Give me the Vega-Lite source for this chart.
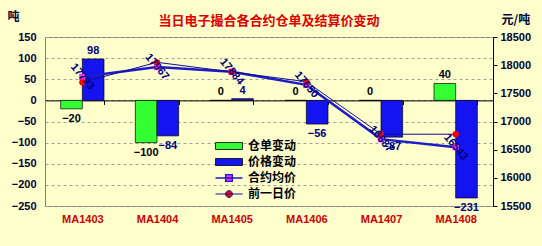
{
  "$schema": "https://vega.github.io/schema/vega-lite/v6.json",
  "autosize": {"type": "none"},
  "width": 448,
  "height": 169,
  "padding": {"left": 45, "top": 37, "right": 49, "bottom": 40},
  "background": "#FFFFCC",
  "title": {
    "text": "当日电子撮合各合约仓单及结算价变动",
    "font": "Noto Sans CJK SC",
    "fontSize": 13,
    "fontWeight": "bold",
    "color": "#DD0000",
    "anchor": "middle",
    "offset": -18
  },
  "config": {
    "view": {"stroke": "#808080", "fill": "#FFFFCC"},
    "font": "Liberation Sans",
    "axisX": {
      "offset": -105.6,
      "domainColor": "#000000",
      "domainWidth": 1,
      "tickBand": "extent",
      "tickSize": 4,
      "tickColor": "#000000",
      "labelPadding": 109,
      "labelFont": "Liberation Sans",
      "labelFontWeight": "bold",
      "labelFontSize": 11,
      "labelColor": "#D00000",
      "labelAngle": 0,
      "grid": false
    },
    "axisLeft": {
      "grid": true,
      "gridDash": [3, 3],
      "gridColor": "#A0A0A0",
      "tickSize": 0,
      "labelPadding": 9,
      "domainColor": "#808080",
      "labelFont": "Liberation Sans",
      "labelFontWeight": "bold",
      "labelFontSize": 11,
      "labelColor": "#000033",
      "tickCount": 8,
      "titleAngle": 0,
      "titleX": -38,
      "titleY": -21,
      "titleAlign": "left",
      "titleBaseline": "middle",
      "titleFont": "Noto Sans CJK SC",
      "titleFontSize": 12,
      "titleFontWeight": "bold",
      "titleColor": "#000033"
    },
    "axisRight": {
      "grid": false,
      "tickSize": 4,
      "tickColor": "#000000",
      "domainColor": "#000000",
      "labelPadding": 3,
      "labelFont": "Liberation Sans",
      "labelFontWeight": "bold",
      "labelFontSize": 11,
      "labelColor": "#000033",
      "tickCount": 6,
      "titleAngle": 0,
      "titleX": 8,
      "titleY": -18,
      "titleAlign": "left",
      "titleBaseline": "middle",
      "titleFont": "Noto Sans CJK SC",
      "titleFontSize": 12,
      "titleFontWeight": "bold",
      "titleColor": "#000033"
    }
  },
  "data": {
    "values": [
      {"contract": "MA1403", "仓单变动": -20, "价格变动": 98, "合约均价": 17793, "前一日价": 17695},
      {"contract": "MA1404", "仓单变动": -100, "价格变动": -84, "合约均价": 17967, "前一日价": 18051},
      {"contract": "MA1405", "仓单变动": 0, "价格变动": 4, "合约均价": 17884, "前一日价": 17880},
      {"contract": "MA1406", "仓单变动": 0, "价格变动": -56, "合约均价": 17650, "前一日价": 17706},
      {"contract": "MA1407", "仓单变动": 0, "价格变动": -87, "合约均价": 16687, "前一日价": 16774},
      {"contract": "MA1408", "仓单变动": 40, "价格变动": -231, "合约均价": 16543, "前一日价": 16774}
    ]
  },
  "resolve": {"scale": {"y": "independent"}},
  "layer": [
    {
      "transform": [{"fold": ["仓单变动", "价格变动"], "as": ["series", "value"]}],
      "layer": [
        {
          "mark": {"type": "bar", "stroke": "#000000", "strokeWidth": 0.7},
          "encoding": {
            "x": {"field": "contract", "type": "nominal", "title": null, "scale": {"paddingInner": 0.42, "paddingOuter": 0.21}},
            "xOffset": {"field": "series", "type": "nominal", "scale": {"domain": ["仓单变动", "价格变动"]}},
            "y": {"field": "value", "type": "quantitative", "scale": {"domain": [-250, 150], "nice": false}, "axis": {"title": "吨"}},
            "color": {
              "field": "series",
              "type": "nominal",
              "scale": {"domain": ["仓单变动", "价格变动", "合约均价", "前一日价"], "range": ["#33FF33", "#1414F0", "#EE33EE", "#FF0000"]},
              "legend": {
                "title": null,
                "orient": "none",
                "legendX": 178,
                "legendY": 103,
                "padding": 0,
                "labelFont": "Noto Sans CJK SC",
                "labelFontSize": 12,
                "labelFontWeight": "bold",
                "labelColor": "#000000",
                "labelOffset": 13,
                "rowPadding": 4,
                "symbolSize": 729,
                "symbolOpacity": 1,
                "symbolType": {"expr": "datum.value === '合约均价' ? 'M-1,0H1M-0.25,-0.25H0.25V0.25H-0.25Z' : (datum.value === '前一日价' ? 'M-1,0H1M0.25,0A0.25,0.25,0,1,1,-0.25,0A0.25,0.25,0,1,1,0.25,0Z' : 'M-1,-0.26H1V0.26H-1Z')"},
                "symbolStrokeColor": {"expr": "datum.value === '合约均价' ? '#1818D0' : (datum.value === '前一日价' ? '#101090' : '#000000')"},
                "symbolStrokeWidth": {"expr": "datum.value === '合约均价' ? 1.3 : (datum.value === '前一日价' ? 1 : 0.8)"}
              }
            }
          }
        },
        {
          "transform": [{"filter": "datum.value >= 0"}],
          "mark": {"type": "text", "baseline": "bottom", "dy": -3, "font": "Liberation Sans", "fontWeight": "bold", "fontSize": 11},
          "encoding": {
            "x": {"field": "contract", "type": "nominal", "title": null},
            "xOffset": {"field": "series", "type": "nominal", "scale": {"domain": ["仓单变动", "价格变动"]}},
            "y": {"field": "value", "type": "quantitative", "axis": {"title": "吨"}},
            "text": {"field": "value", "type": "quantitative", "format": "d"},
            "color": {"condition": {"test": "datum.series === '价格变动'", "value": "#000080"}, "value": "#000000"}
          }
        },
        {
          "transform": [{"filter": "datum.value < 0"}],
          "mark": {"type": "text", "baseline": "top", "dy": 4, "font": "Liberation Sans", "fontWeight": "bold", "fontSize": 11},
          "encoding": {
            "x": {"field": "contract", "type": "nominal", "title": null},
            "xOffset": {"field": "series", "type": "nominal", "scale": {"domain": ["仓单变动", "价格变动"]}},
            "y": {"field": "value", "type": "quantitative", "axis": {"title": "吨"}},
            "text": {"field": "value", "type": "quantitative", "format": "d"},
            "color": {"condition": {"test": "datum.series === '价格变动'", "value": "#000080"}, "value": "#000000"}
          }
        }
      ]
    },
    {
      "layer": [
        {
          "mark": {"type": "line", "color": "#1C1CC8", "strokeWidth": 2.5},
          "encoding": {
            "x": {"field": "contract", "type": "nominal", "title": null},
            "y": {"field": "合约均价", "type": "quantitative", "scale": {"domain": [15500, 18500], "nice": false, "zero": false}, "axis": {"orient": "right", "title": "元/吨", "format": "d"}}
          }
        },
        {
          "mark": {"type": "line", "color": "#101090", "strokeWidth": 1},
          "encoding": {
            "x": {"field": "contract", "type": "nominal", "title": null},
            "y": {"field": "前一日价", "type": "quantitative", "axis": {"orient": "right", "title": "元/吨", "format": "d"}}
          }
        },
        {
          "transform": [{"fold": ["合约均价", "前一日价"], "as": ["series", "price"]}],
          "mark": {"type": "point", "filled": true, "size": 40, "opacity": 1},
          "encoding": {
            "x": {"field": "contract", "type": "nominal", "title": null},
            "y": {"field": "price", "type": "quantitative", "axis": {"orient": "right", "title": "元/吨", "format": "d"}},
            "color": {"field": "series", "type": "nominal", "scale": {"domain": ["仓单变动", "价格变动", "合约均价", "前一日价"], "range": ["#33FF33", "#1414F0", "#EE33EE", "#FF0000"]}, "legend": null},
            "shape": {"field": "series", "type": "nominal", "scale": {"domain": ["合约均价", "前一日价"], "range": ["square", "circle"]}, "legend": null}
          }
        },
        {
          "mark": {"type": "text", "angle": 50, "align": "center", "baseline": "middle", "font": "Liberation Sans", "fontWeight": "bold", "fontSize": 11, "color": "#000080"},
          "encoding": {
            "x": {"field": "contract", "type": "nominal", "title": null},
            "y": {"field": "合约均价", "type": "quantitative", "axis": {"orient": "right", "title": "元/吨", "format": "d"}},
            "text": {"field": "合约均价", "type": "quantitative", "format": "d"}
          }
        }
      ]
    }
  ]
}
